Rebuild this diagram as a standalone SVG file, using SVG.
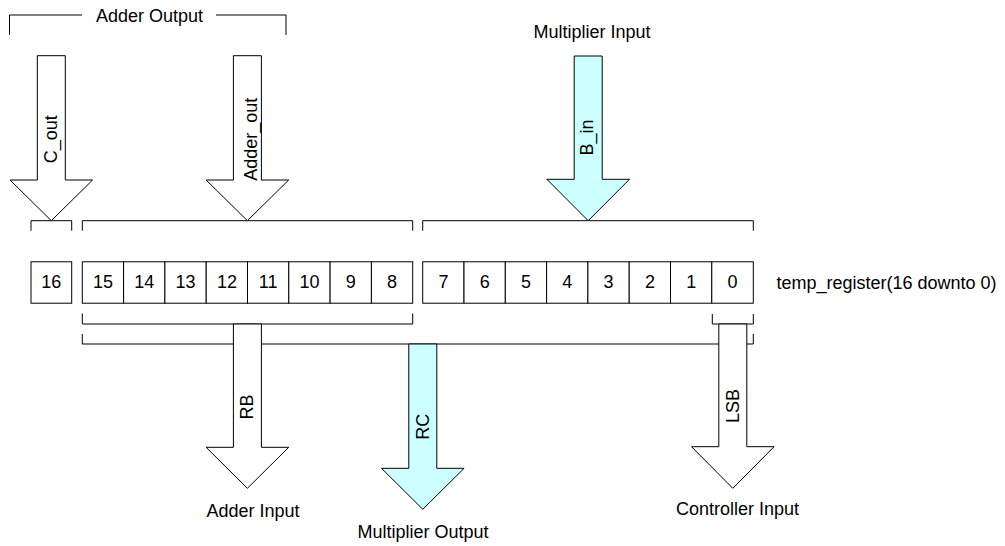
<svg xmlns="http://www.w3.org/2000/svg" width="1005" height="546" viewBox="0 0 1005 546">
<style>
text{font-family:"Liberation Sans",Arial,sans-serif;font-size:18px;fill:#000}
.c{text-anchor:middle}
.br{fill:none;stroke:#000;stroke-width:1}
.cell{fill:#fff;stroke:#000;stroke-width:1}
.aw{fill:#fff;stroke:#000;stroke-width:1}
.ac{fill:#ccffff;stroke:#000;stroke-width:1}
</style>
<rect width="1005" height="546" fill="#fff"/>
<g id="brackets">
<path class="br" d="M9.5,35 V15 H82 M216,15 H286 V35"/>
<path class="br" d="M31,230.7 V220.7 H71.7 V230.7"/>
<path class="br" d="M82.3,230.7 V220.7 H412.7 V230.7"/>
<path class="br" d="M422.7,230.7 V220.7 H753.3 V230.7"/>
<path class="br" d="M82.3,313.5 V324 H412.7 V313.5"/>
<path class="br" d="M712.3,314 V324 H753.3 V314"/>
<path class="br" d="M82.3,334 V344 H753.3 V334"/>
</g>
<g id="labels">
<text class="c" x="149.5" y="22">Adder Output</text>
<text class="c" x="592" y="37.5">Multiplier Input</text>
<text x="776.5" y="288.5">temp_register(16 downto 0)</text>
<text class="c" x="253" y="517">Adder Input</text>
<text class="c" x="423" y="537.5">Multiplier Output</text>
<text class="c" x="737.5" y="515">Controller Input</text>
</g>
<g id="connectors">
<g id="arrow-cout">
<polygon class="aw" points="37.3,55.7 65.3,55.7 65.3,180 92.6,180 51.3,220.7 10,180 37.3,180"/>
<text class="c" transform="translate(57,139.2) rotate(-90)">C_out</text>
</g>
<g id="arrow-adder-out">
<polygon class="aw" points="233.4,55.7 261.4,55.7 261.4,180 288.7,180 247.4,220.7 206.1,180 233.4,180"/>
<text class="c" transform="translate(256.8,139.2) rotate(-90)">Adder_out</text>
</g>
<g id="arrow-b-in">
<polygon class="ac" points="574.2,56 602.2,56 602.2,179.3 629.5,179.3 588.2,220.7 546.9,179.3 574.2,179.3"/>
<text class="c" transform="translate(593.3,137.4) rotate(-90)">B_in</text>
</g>
<g id="arrow-rb">
<polygon class="aw" points="233.4,324 261.4,324 261.4,447.3 288.7,447.3 247.4,488.3 206.1,447.3 233.4,447.3"/>
<text class="c" transform="translate(252.7,407) rotate(-90)">RB</text>
</g>
<g id="arrow-rc">
<polygon class="ac" points="408.8,344 436.8,344 436.8,468.3 464.1,468.3 422.8,509.3 381.5,468.3 408.8,468.3"/>
<text class="c" transform="translate(429.3,426.7) rotate(-90)">RC</text>
</g>
<g id="arrow-lsb">
<polygon class="aw" points="718.8,324 746.8,324 746.8,446.7 774.1,446.7 732.8,488.3 691.5,446.7 718.8,446.7"/>
<text class="c" transform="translate(739.3,406) rotate(-90)">LSB</text>
</g>
</g>
<g id="register">
<g id="bit16"><rect class="cell" x="31" y="261.8" width="40.7" height="41.4"/><text class="c" x="51.3" y="288.3">16</text></g>
<g id="bit15"><rect class="cell" x="82.3" y="261.8" width="41.3" height="41.4"/><text class="c" x="103" y="288.3">15</text></g>
<g id="bit14"><rect class="cell" x="123.6" y="261.8" width="41.3" height="41.4"/><text class="c" x="144.3" y="288.3">14</text></g>
<g id="bit13"><rect class="cell" x="164.9" y="261.8" width="41.3" height="41.4"/><text class="c" x="185.6" y="288.3">13</text></g>
<g id="bit12"><rect class="cell" x="206.2" y="261.8" width="41.3" height="41.4"/><text class="c" x="226.9" y="288.3">12</text></g>
<g id="bit11"><rect class="cell" x="247.5" y="261.8" width="41.3" height="41.4"/><text class="c" x="268.2" y="288.3">11</text></g>
<g id="bit10"><rect class="cell" x="288.8" y="261.8" width="41.3" height="41.4"/><text class="c" x="309.5" y="288.3">10</text></g>
<g id="bit9"><rect class="cell" x="330.1" y="261.8" width="41.3" height="41.4"/><text class="c" x="350.8" y="288.3">9</text></g>
<g id="bit8"><rect class="cell" x="371.4" y="261.8" width="41.3" height="41.4"/><text class="c" x="392.1" y="288.3">8</text></g>
<g id="bit7"><rect class="cell" x="422.7" y="261.8" width="41.3" height="41.4"/><text class="c" x="443.4" y="288.3">7</text></g>
<g id="bit6"><rect class="cell" x="464" y="261.8" width="41.3" height="41.4"/><text class="c" x="484.7" y="288.3">6</text></g>
<g id="bit5"><rect class="cell" x="505.3" y="261.8" width="41.3" height="41.4"/><text class="c" x="526" y="288.3">5</text></g>
<g id="bit4"><rect class="cell" x="546.6" y="261.8" width="41.3" height="41.4"/><text class="c" x="567.3" y="288.3">4</text></g>
<g id="bit3"><rect class="cell" x="587.9" y="261.8" width="41.3" height="41.4"/><text class="c" x="608.6" y="288.3">3</text></g>
<g id="bit2"><rect class="cell" x="629.2" y="261.8" width="41.3" height="41.4"/><text class="c" x="649.9" y="288.3">2</text></g>
<g id="bit1"><rect class="cell" x="670.5" y="261.8" width="41.3" height="41.4"/><text class="c" x="691.2" y="288.3">1</text></g>
<g id="bit0"><rect class="cell" x="711.8" y="261.8" width="41.5" height="41.4"/><text class="c" x="732.5" y="288.3">0</text></g>
</g>
</svg>
